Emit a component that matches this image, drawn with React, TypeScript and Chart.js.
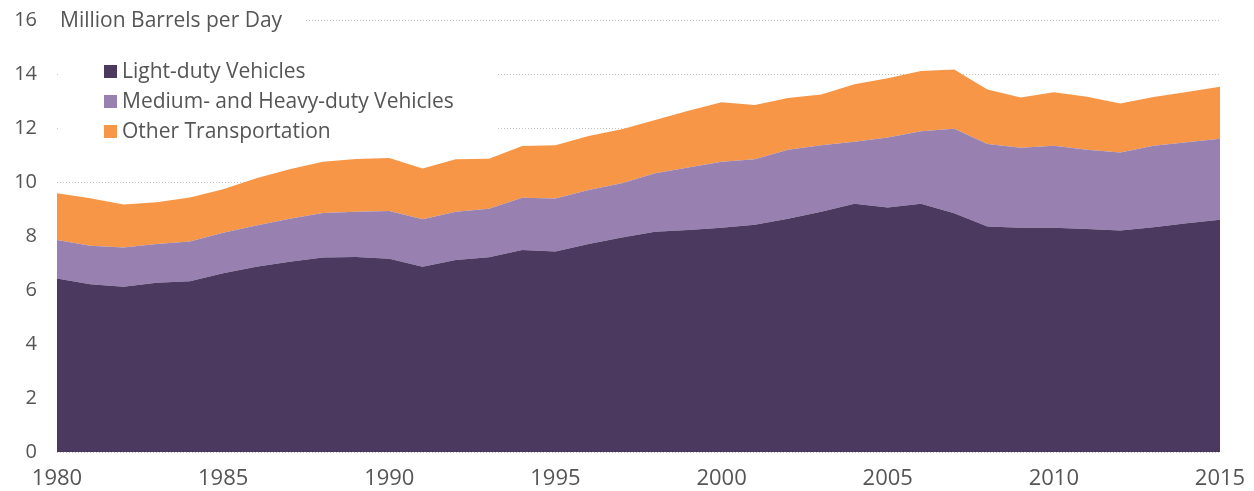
import React, { useEffect, useRef } from "react";
import { Chart, registerables } from "chart.js";

Chart.register(...registerables);

const years = [
  "1980", "1981", "1982", "1983", "1984", "1985", "1986", "1987", "1988", "1989",
  "1990", "1991", "1992", "1993", "1994", "1995", "1996", "1997", "1998", "1999",
  "2000", "2001", "2002", "2003", "2004", "2005", "2006", "2007", "2008", "2009",
  "2010", "2011", "2012", "2013", "2014", "2015",
];

const lightDuty = [
  6.43, 6.21, 6.12, 6.27, 6.32, 6.62, 6.86, 7.05, 7.2, 7.22,
  7.16, 6.86, 7.11, 7.21, 7.48, 7.43, 7.7, 7.94, 8.16, 8.22,
  8.31, 8.42, 8.64, 8.9, 9.19, 9.06, 9.19, 8.84, 8.35, 8.31,
  8.31, 8.26, 8.2, 8.32, 8.47, 8.6,
];

const mediumHeavy = [
  1.42, 1.43, 1.45, 1.43, 1.48, 1.5, 1.53, 1.59, 1.65, 1.68,
  1.77, 1.76, 1.79, 1.8, 1.94, 1.96, 2.0, 2.01, 2.16, 2.32,
  2.44, 2.42, 2.55, 2.46, 2.3, 2.59, 2.69, 3.13, 3.06, 2.96,
  3.03, 2.93, 2.89, 3.02, 3.0, 3.0,
];

const otherTransport = [
  1.73, 1.76, 1.6, 1.55, 1.63, 1.61, 1.75, 1.83, 1.9, 1.95,
  1.96, 1.88, 1.94, 1.85, 1.91, 1.97, 2.0, 2.0, 1.98, 2.1,
  2.2, 2.01, 1.92, 1.88, 2.13, 2.19, 2.23, 2.2, 2.02, 1.86,
  1.98, 1.97, 1.82, 1.81, 1.86, 1.93,
];

const seriesNames = [
  "Light-duty Vehicles",
  "Medium- and Heavy-duty Vehicles",
  "Other Transportation",
];

const unitLabel = "Million Barrels per Day";

const COLORS = ["#4B3960", "#9881B1", "#F69646"];
const FONT = "'Open Sans'";
const TEXT = "#555555";

const overlayPlugin = {
  id: "overlay",
  beforeDatasetsDraw(chart: any) {
    const ctx = chart.ctx;
    const y = chart.scales.y;
    const area = chart.chartArea;
    ctx.save();
    ctx.fillStyle = "#ffffff";
    ctx.fillRect(area.left, y.getPixelForValue(16) - 12, 248, 24);
    ctx.fillRect(area.left + 3, y.getPixelForValue(15), 437, y.getPixelForValue(11.2) - y.getPixelForValue(15));
    ctx.restore();
  },
  afterDraw(chart: any) {
    const ctx = chart.ctx;
    const y = chart.scales.y;
    const area = chart.chartArea;
    ctx.save();
    ctx.font = `21px ${FONT}`;
    ctx.fillStyle = TEXT;
    ctx.textBaseline = "middle";
    ctx.textAlign = "left";
    ctx.fillText(unitLabel, area.left + 3, y.getPixelForValue(16) + 1);
    const lx = area.left + 47;
    const ly0 = y.getPixelForValue(14) - 3;
    chart.data.datasets.forEach((ds: any, i: number) => {
      const cy = ly0 + i * 30;
      ctx.fillStyle = ds.backgroundColor;
      ctx.fillRect(lx, cy - 6, 13, 13);
      ctx.fillStyle = TEXT;
      ctx.fillText(ds.label, lx + 18, cy + 1);
    });
    ctx.restore();
  },
};

export default function App() {
  const ref = useRef<HTMLCanvasElement | null>(null);

  useEffect(() => {
    if (!ref.current) return;
    const chart = new Chart(ref.current, {
      type: "line",
      data: {
        labels: years,
        datasets: [
          {
            label: seriesNames[0],
            data: lightDuty,
            backgroundColor: COLORS[0],
            borderColor: COLORS[0],
            borderWidth: 0,
            pointRadius: 0,
            fill: "origin",
            tension: 0,
          },
          {
            label: seriesNames[1],
            data: mediumHeavy,
            backgroundColor: COLORS[1],
            borderColor: COLORS[1],
            borderWidth: 0,
            pointRadius: 0,
            fill: "-1",
            tension: 0,
          },
          {
            label: seriesNames[2],
            data: otherTransport,
            backgroundColor: COLORS[2],
            borderColor: COLORS[2],
            borderWidth: 0,
            pointRadius: 0,
            fill: "-1",
            tension: 0,
          },
        ],
      },
      options: {
        responsive: false,
        animation: false,
        devicePixelRatio: 1,
        layout: { padding: { top: 20, right: 34, left: 0, bottom: 0 } },
        plugins: {
          legend: { display: false },
          tooltip: { enabled: false },
        },
        scales: {
          x: {
            offset: false,
            grid: { display: false, drawTicks: false },
            border: { display: false },
            afterFit: (s: any) => {
              s.height = 39;
              s.paddingLeft = 0;
              s.paddingRight = 0;
            },
            ticks: {
              autoSkip: false,
              maxRotation: 0,
              padding: 14,
              color: TEXT,
              font: { family: FONT, size: 22 },
              callback: (_v: any, i: number) =>
                Number(years[i]) % 5 === 0 ? years[i] : "",
            },
          },
          y: {
            stacked: true,
            min: 0,
            max: 16,
            afterFit: (s: any) => {
              s.width = 57;
              s.paddingTop = 0;
              s.paddingBottom = 0;
            },
            grid: {
              color: "#c4c4c4",
              lineWidth: 1,
              drawTicks: false,
            },
            border: { display: false, dash: [1, 2] },
            ticks: {
              stepSize: 2,
              padding: 20,
              color: TEXT,
              font: { family: FONT, size: 20 },
            },
          },
        },
      },
      plugins: [overlayPlugin],
    });
    return () => chart.destroy();
  }, []);

  return (
    <div style={{ position: "fixed", left: 0, top: 0, width: 1254, height: 491, background: "#fff" }}>
      <canvas ref={ref} width={1254} height={491} />
    </div>
  );
}
